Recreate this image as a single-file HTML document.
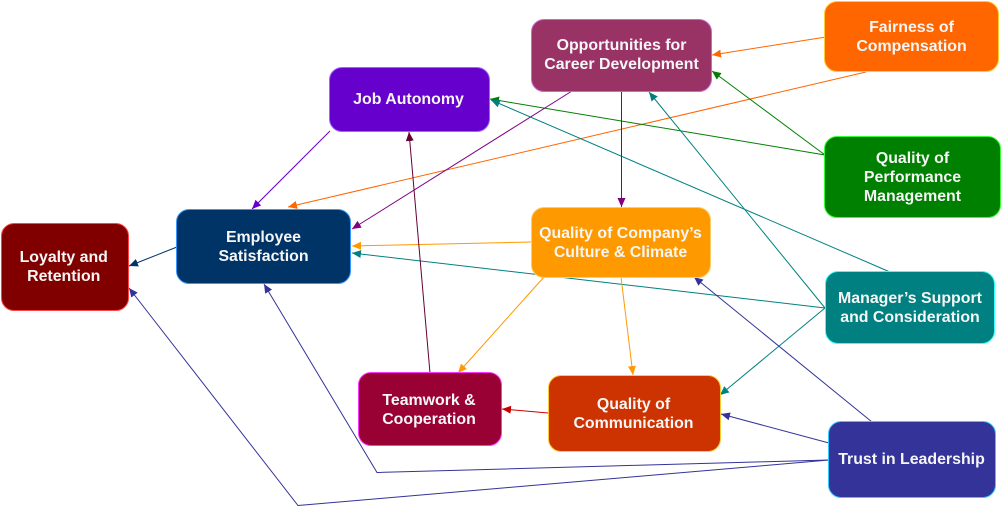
<!DOCTYPE html>
<html><head><meta charset="utf-8">
<style>
html,body{margin:0;padding:0;background:#fff}
#c{position:relative;width:1001px;height:506px;overflow:hidden;background:#fff;font-family:"Liberation Sans",sans-serif;filter:blur(.3px)}
svg{position:absolute;left:0;top:0}
.b{position:absolute;box-sizing:border-box;border-radius:13px;border:1.5px solid;display:flex;align-items:center;justify-content:center;text-align:center;color:#f6f6f6;font-weight:bold;font-size:15.9px;line-height:19px}
</style></head><body>
<div id="c">
<svg width="1001" height="506" viewBox="0 0 1001 506" fill="none" stroke-width="1">
<defs>
<marker id="m1" markerUnits="userSpaceOnUse" markerWidth="10" markerHeight="10" refX="9" refY="4" orient="auto"><path d="M0 0L9 4L0 8Z" fill="#ff6600"/></marker>
<marker id="m2" markerUnits="userSpaceOnUse" markerWidth="10" markerHeight="10" refX="9" refY="4" orient="auto"><path d="M0 0L9 4L0 8Z" fill="#008000"/></marker>
<marker id="m3" markerUnits="userSpaceOnUse" markerWidth="10" markerHeight="10" refX="9" refY="4" orient="auto"><path d="M0 0L9 4L0 8Z" fill="#008080"/></marker>
<marker id="m4" markerUnits="userSpaceOnUse" markerWidth="10" markerHeight="10" refX="9" refY="4" orient="auto"><path d="M0 0L9 4L0 8Z" fill="#333399"/></marker>
<marker id="m5" markerUnits="userSpaceOnUse" markerWidth="10" markerHeight="10" refX="9" refY="4" orient="auto"><path d="M0 0L9 4L0 8Z" fill="#800080"/></marker>
<marker id="m6" markerUnits="userSpaceOnUse" markerWidth="10" markerHeight="10" refX="9" refY="4" orient="auto"><path d="M0 0L9 4L0 8Z" fill="#6600cc"/></marker>
<marker id="m7" markerUnits="userSpaceOnUse" markerWidth="10" markerHeight="10" refX="9" refY="4" orient="auto"><path d="M0 0L9 4L0 8Z" fill="#003366"/></marker>
<marker id="m8" markerUnits="userSpaceOnUse" markerWidth="10" markerHeight="10" refX="9" refY="4" orient="auto"><path d="M0 0L9 4L0 8Z" fill="#ff9900"/></marker>
<marker id="m9" markerUnits="userSpaceOnUse" markerWidth="10" markerHeight="10" refX="9" refY="4" orient="auto"><path d="M0 0L9 4L0 8Z" fill="#cc0000"/></marker>
<marker id="m10" markerUnits="userSpaceOnUse" markerWidth="10" markerHeight="10" refX="9" refY="4" orient="auto"><path d="M0 0L9 4L0 8Z" fill="#660033"/></marker>
</defs>
<path d="M826 37L712 55" stroke="#ff6600" marker-end="url(#m1)"/>
<path d="M866 72L288 207" stroke="#ff6600" marker-end="url(#m1)"/>
<path d="M825 155L712 71" stroke="#008000" marker-end="url(#m2)"/>
<path d="M825 155L490 99" stroke="#008000" marker-end="url(#m2)"/>
<path d="M890 272L491 100" stroke="#008080" marker-end="url(#m3)"/>
<path d="M825 308L649 92" stroke="#008080" marker-end="url(#m3)"/>
<path d="M825 308L352 253" stroke="#008080" marker-end="url(#m3)"/>
<path d="M825 308L720 395" stroke="#008080" marker-end="url(#m3)"/>
<path d="M872 422L694 277" stroke="#333399" marker-end="url(#m4)"/>
<path d="M829 443L721 414" stroke="#333399" marker-end="url(#m4)"/>
<path d="M829 460L377 472.500L264 284" stroke="#333399" marker-end="url(#m4)"/>
<path d="M829 460L298 505.500L129 288" stroke="#333399" marker-end="url(#m4)"/>
<path d="M572 91L352 229" stroke="#800080" marker-end="url(#m5)"/>
<path d="M621.500 91L621.500 207" stroke="#800080" marker-end="url(#m5)"/>
<path d="M330 131L252 209" stroke="#6600cc" marker-end="url(#m6)"/>
<path d="M177 247L129 266" stroke="#003366" marker-end="url(#m7)"/>
<path d="M532 242L352 246" stroke="#ff9900" marker-end="url(#m8)"/>
<path d="M544 277L458 373" stroke="#ff9900" marker-end="url(#m8)"/>
<path d="M621 277L633 375" stroke="#ff9900" marker-end="url(#m8)"/>
<path d="M548 413L502 409" stroke="#cc0000" marker-end="url(#m9)"/>
<path d="M430 373L409 132" stroke="#660033" marker-end="url(#m10)"/>
</svg>
<div class="b" style="left:0.500px;top:222.500px;width:128.500px;height:88.500px;padding-right:2px;background:#800000;border-color:#ff4444">Loyalty and<br>Retention</div>
<div class="b" style="left:176px;top:209px;width:175px;height:75px;background:#003366;border-color:#3399ff">Employee<br>Satisfaction</div>
<div class="b" style="left:329px;top:67px;width:161px;height:65px;padding-right:2px;background:#6600cc;border-color:#9966ff">Job Autonomy</div>
<div class="b" style="left:531px;top:19px;width:181px;height:73px;padding-bottom:2px;background:#993366;border-color:#cc66cc">Opportunities for<br>Career Development</div>
<div class="b" style="left:824px;top:1px;width:175px;height:71px;background:#ff6600;border-color:#ffcc33">Fairness of<br>Compensation</div>
<div class="b" style="left:824px;top:136px;width:177px;height:82px;background:#008000;border-color:#33ff33">Quality of<br>Performance<br>Management</div>
<div class="b" style="left:531px;top:207px;width:180px;height:71px;padding-right:1px;background:#ff9900;border-color:#ffcc66">Quality of Company’s<br>Culture &amp; Climate</div>
<div class="b" style="left:825px;top:271px;width:170px;height:73px;background:#008080;border-color:#33ffff">Manager’s Support<br>and Consideration</div>
<div class="b" style="left:548px;top:375px;width:173px;height:77px;padding-right:2px;background:#cc3300;border-color:#ffcc33">Quality of<br>Communication</div>
<div class="b" style="left:358px;top:372px;width:144px;height:74px;padding-top:2px;padding-right:2px;background:#990033;border-color:#ff33ff">Teamwork &amp;<br>Cooperation</div>
<div class="b" style="left:828px;top:421px;width:168px;height:77px;padding-right:1px;background:#333399;border-color:#33ccff">Trust in Leadership</div>
</div>
</body></html>
